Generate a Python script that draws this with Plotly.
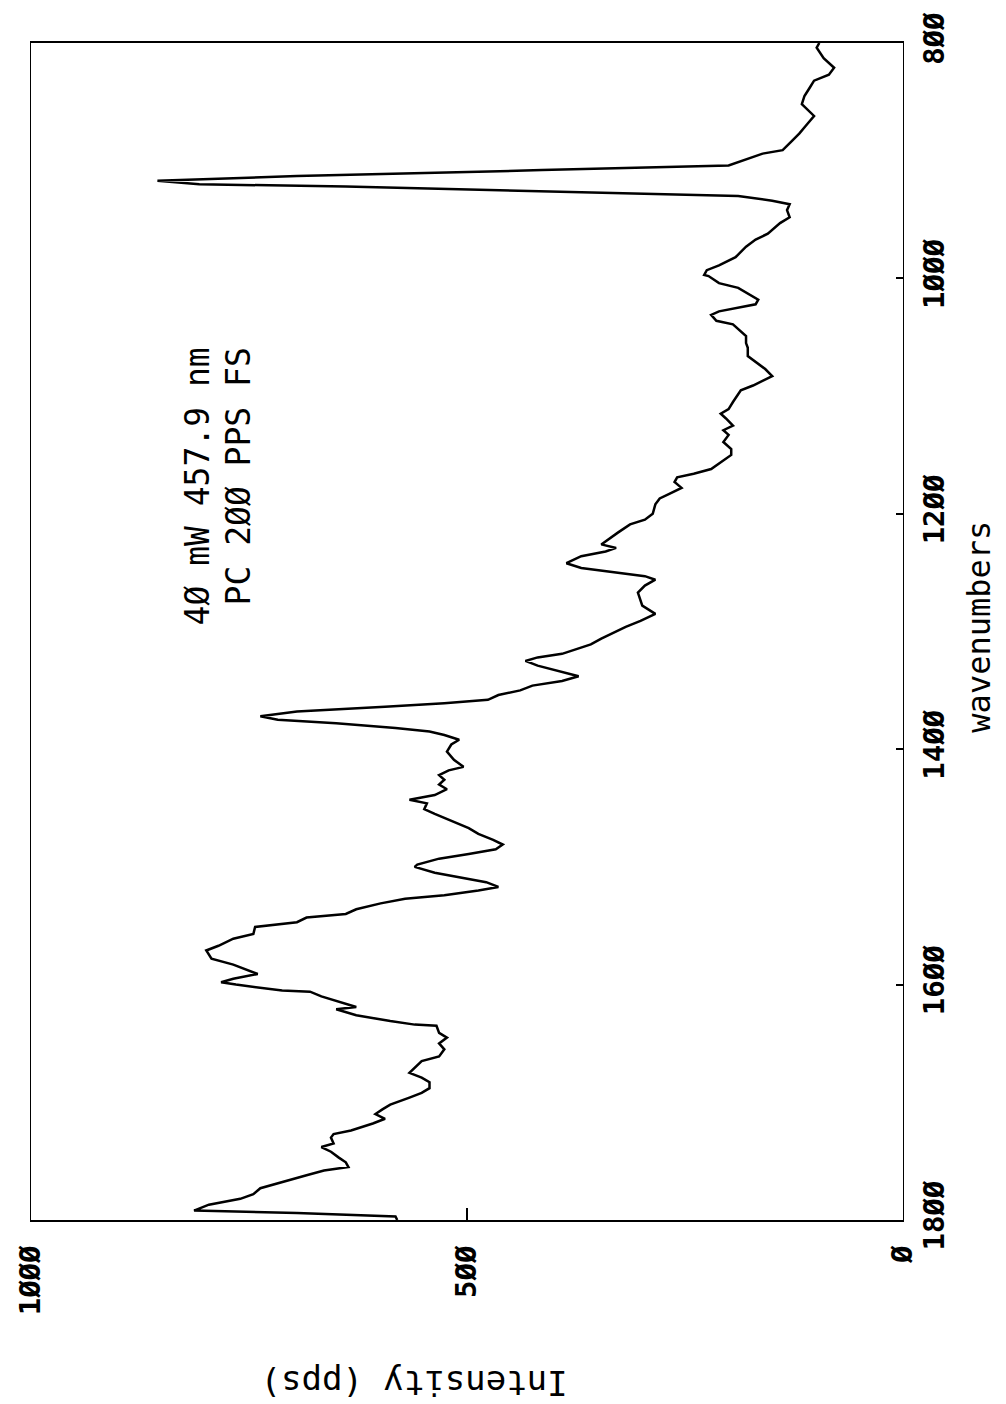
import plotly.graph_objects as go

# Raman spectrum: wavenumber (cm-1) and detected intensity (pps)
wavenumber = [
    800, 804, 813, 821, 827, 832, 838, 845, 852, 859, 862, 869, 877, 883, 891, 894,
    900, 904, 908, 913, 917, 920, 922, 927, 930, 934, 937, 942, 948, 953, 962, 967,
    973, 982, 989, 993, 997, 998, 1004, 1008, 1012, 1018, 1022, 1025, 1028, 1031,
    1036, 1039, 1045, 1049, 1055, 1059, 1066, 1071, 1077, 1083, 1087, 1091, 1095,
    1101, 1105, 1111, 1115, 1119, 1125, 1129, 1133, 1139, 1145, 1150, 1156, 1162,
    1166, 1169, 1173, 1178, 1183, 1187, 1192, 1200, 1205, 1209, 1216, 1222, 1226,
    1229, 1232, 1236, 1242, 1246, 1250, 1253, 1256, 1261, 1267, 1273, 1278, 1285,
    1291, 1296, 1301, 1306, 1311, 1315, 1319, 1322, 1325, 1329, 1333, 1338, 1342,
    1346, 1350, 1354, 1358, 1361, 1364, 1368, 1372, 1375, 1378, 1382, 1385, 1388,
    1392, 1396, 1402, 1409, 1415, 1418, 1422, 1426, 1430, 1434, 1439, 1443, 1446,
    1451, 1455, 1461, 1467, 1472, 1477, 1481, 1485, 1489, 1493, 1498, 1500, 1505,
    1509, 1513, 1517, 1520, 1524, 1527, 1531, 1536, 1540, 1543, 1547, 1551, 1557,
    1561, 1567, 1571, 1578, 1583, 1591, 1595, 1598, 1600, 1605, 1606, 1610, 1614,
    1619, 1621, 1626, 1631, 1634, 1635, 1641, 1645, 1650, 1655, 1661, 1665, 1671,
    1675, 1679, 1683, 1688, 1692, 1696, 1702, 1706, 1710, 1714, 1718, 1724, 1727,
    1730, 1735, 1738, 1742, 1747, 1751, 1755, 1758, 1762, 1766, 1769, 1773, 1778,
    1782, 1787, 1792, 1794, 1797, 1800,
]
intensity = [
    96, 99, 91, 79, 85, 102, 107, 113, 116, 107, 102, 110, 119, 127, 138, 161,
    183, 200, 414, 695, 855, 807, 639, 357, 189, 150, 130, 133, 130, 141, 155, 169,
    180, 192, 211, 225, 228, 223, 211, 189, 180, 166, 169, 189, 211, 220,
    214, 195, 186, 180, 180, 178, 178, 169, 158, 150, 161, 172, 186,
    192, 195, 200, 209, 203, 195, 206, 200, 206, 197, 197, 209, 220,
    240, 259, 262, 254, 268, 279, 284, 287, 296, 313, 327, 338, 346,
    329, 341, 369, 386, 369, 324, 296, 284, 296, 304, 301, 299, 284,
    301, 318, 332, 346, 358, 374, 391, 419, 433, 419, 397, 372, 391,
    425, 439, 464, 476, 526, 594, 695, 737, 717, 650, 582, 543, 526,
    509, 518, 523, 515, 504, 521, 532, 526, 532, 523, 537, 566, 546,
    549, 537, 518, 498, 487, 470, 459, 467, 498, 532, 557, 560, 537,
    509, 478, 464, 487, 526, 571, 599, 627, 639, 684, 695, 743, 745,
    768, 785, 799, 793, 768, 740, 768, 782, 765, 712, 680, 667, 650,
    627, 650, 627, 588, 560, 535, 532, 523, 532, 526, 532, 552, 560,
    566, 552, 543, 543, 552, 566, 588, 597, 605, 594, 608, 633, 653,
    656, 653, 667, 656, 647, 639, 636, 664, 684, 703, 717, 737, 745,
    760, 796, 813, 695, 582, 580,
]

# Axis ticks (plotter-style slashed zeros)
intensity_ticks = [0, 500, 1000]
intensity_ticktext = ["Ø", "5ØØ", "1ØØØ"]
wavenumber_ticks = [800, 1000, 1200, 1400, 1600, 1800]
wavenumber_ticktext = ["8ØØ", "1ØØØ", "12ØØ", "14ØØ", "16ØØ", "18ØØ"]

note_lines = ["4Ø mW 457.9 nm", "PC 2ØØ PPS FS"]

MONO = "DejaVu Sans Mono"

fig = go.Figure(
    go.Scatter(
        x=intensity,
        y=wavenumber,
        mode="lines",
        line=dict(color="black", width=2.5),
        hoverinfo="skip",
    )
)

tick_font = dict(family=MONO, size=29, color="black", weight="bold")

fig.update_layout(
    width=1006,
    height=1404,
    margin=dict(l=31, r=103, t=35, b=184),
    paper_bgcolor="white",
    plot_bgcolor="white",
    showlegend=False,
    xaxis=dict(
        range=[1000, 0],
        tickvals=intensity_ticks,
        ticktext=intensity_ticktext,
        tickangle=-90,
        ticks="inside",
        ticklen=12,
        tickwidth=1.5,
        tickcolor="black",
        tickfont=tick_font,
        ticklabelstandoff=12,
        showgrid=False,
        zeroline=False,
        showline=True,
        linecolor="black",
        linewidth=1.8,
        mirror=True,
    ),
    yaxis=dict(
        range=[1800, 800],
        side="right",
        tickvals=wavenumber_ticks,
        ticktext=wavenumber_ticktext,
        tickangle=-90,
        ticks="inside",
        ticklen=7,
        tickwidth=1.5,
        tickcolor="black",
        tickfont=tick_font,
        ticklabelstandoff=5,
        showgrid=False,
        zeroline=False,
        showline=True,
        linecolor="black",
        linewidth=1.4,
        mirror=True,
    ),
)

annotations = [
    dict(text=note_lines[0], x=0.1915, y=0.743, xanchor="center", yanchor="top",
         textangle=-90, font=dict(family=MONO, size=33, color="black")),
    dict(text=note_lines[1], x=0.2385, y=0.743, xanchor="center", yanchor="top",
         textangle=-90, font=dict(family=MONO, size=33, color="black")),
    dict(text="wavenumbers", x=1.087, y=0.504, xanchor="center", yanchor="middle",
         textangle=-90, font=dict(family=MONO, size=32, color="black")),
    dict(text="Intensity (pps)", x=0.439, y=-0.139, xanchor="center", yanchor="middle",
         textangle=180, font=dict(family=MONO, size=34, color="black")),
]
for a in annotations:
    fig.add_annotation(xref="paper", yref="paper", showarrow=False, **a)

fig.write_html("out.html")
